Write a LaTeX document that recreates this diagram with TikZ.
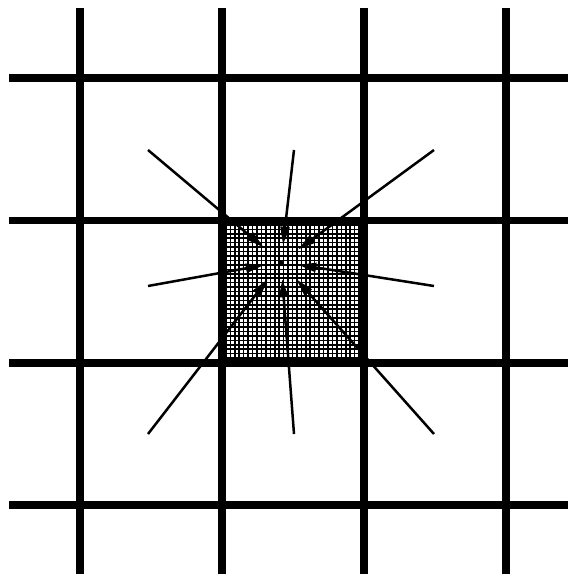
\documentclass[tikz,border=0pt]{standalone}
\usetikzlibrary{arrows.meta}
\begin{document}
\begin{tikzpicture}[
    x=0.02cm, y=-0.02cm,
    coarse/.style={
        line width=0.16cm
    },
    fine/.style={
        line width=0.032cm
    },
    arrow/.style={
        -{Triangle[length=0.36cm,width=0.18cm]},
        line width=0.05cm
    }
]
\useasboundingbox (0,0) rectangle (568,574);

% refined cell
\foreach \i in {0,...,32}{
    \draw[fine] ({221.5+\i*142/32},220.5) -- ({221.5+\i*142/32},362.5);
    \draw[fine] (221.5,{220.5+\i*142/32}) -- (363.5,{220.5+\i*142/32});
}

% coarse grid
\foreach \k in {0,...,3}{
    \draw[coarse] ({79.5+\k*142},8) -- ({79.5+\k*142},574);
    \draw[coarse] (9,{78.5+\k*142}) -- (568,{78.5+\k*142});
}

\node[fill, inner sep=0pt, minimum size=0.09cm, outer sep=0.3cm] (hit) at (281,262) {};

\coordinate (nw) at (148,150);
\coordinate (n)  at (294,150);
\coordinate (ne) at (434,150);
\coordinate (w)  at (148,286);
\coordinate (e)  at (434,286);
\coordinate (sw) at (148,434);
\coordinate (s)  at (294,434);
\coordinate (se) at (434,434);

\foreach \c in {nw,n,ne,w,e,sw,s,se}
    \draw[arrow] (\c) -- (hit);

\end{tikzpicture}
\end{document}
